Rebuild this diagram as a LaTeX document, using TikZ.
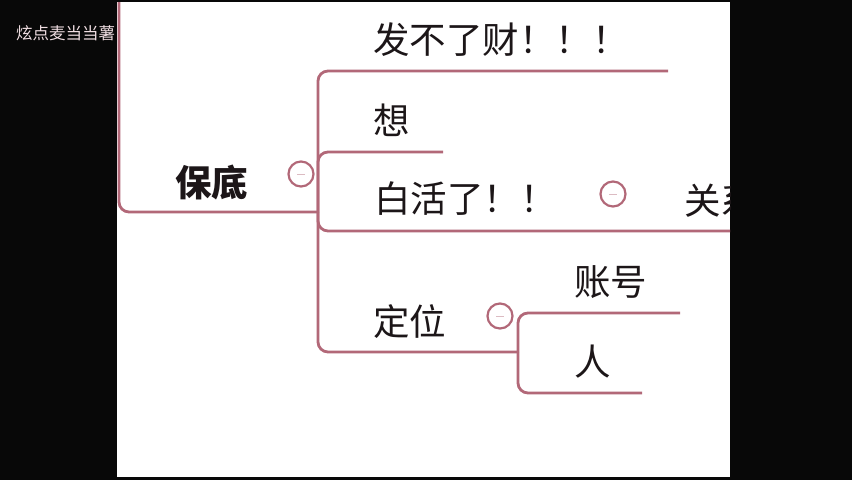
\documentclass[tikz,border=0pt]{standalone}
\usepackage{fontspec}
\newfontfamily\cjk{Noto Sans CJK SC}
\definecolor{linec}{RGB}{178,104,120}
\definecolor{txt}{RGB}{28,22,24}
\definecolor{wm}{RGB}{240,222,226}
\definecolor{bgk}{RGB}{8,8,8}
\begin{document}
\begin{tikzpicture}[x=1pt,y=-1pt,
  br/.style={draw=linec, line width=2.8pt, rounded corners=10pt},
  lbl/.style={font=\cjk\fontsize{36.5}{36.5}\selectfont, text=txt, inner sep=0pt, anchor=west},
  fold/.style={circle, draw=linec, line width=2.2pt, fill=white, minimum size=25pt, inner sep=0pt}]
\fill[bgk] (0,0) rectangle (852,480);
\useasboundingbox (0,0) rectangle (852,480);
\fill[white] (117,2) rectangle (730,477);
\node[font=\cjk\fontsize{16.5}{16.5}\selectfont, text=wm, inner sep=0pt, anchor=west] (wmk) at (16,33) {炫点麦当当薯};
\begin{scope}
\clip (117,2) rectangle (730,477);
% junctions
\coordinate (top) at (119,-10);
\coordinate (j1) at (318,212);
\coordinate (j2) at (518,352);
\coordinate (e1) at (668,71);
\coordinate (e2) at (443,152);
\coordinate (e3) at (740,231);
\coordinate (e5) at (680,313);
\coordinate (e6) at (642,393);
% texts
\node[lbl, font=\cjk\bfseries\fontsize{36.5}{36.5}\selectfont] (root) at (175,182) {保底};
\node[lbl] (fa) at (373,40) {发不了财！！！};
\node[lbl] (xiang) at (373,120) {想};
\node[lbl] (bai) at (374,199) {白活了！！};
\node[lbl] (guan) at (684,201) {关系};
\node[lbl] (ding) at (373,322) {定位};
\node[lbl] (zhang) at (574,282) {账号};
\node[lbl] (ren) at (574,362) {人};
% branches
\draw[br] (top) -- (119,212) -- (j1);
\draw[br] (j1) -- (318,71) -- (e1);
\draw[br] (j1) -- (318,152) -- (e2);
\draw[br] (j1) -- (318,231) -- (e3);
\draw[br] (j1) -- (318,352) -- (j2);
\draw[br] (j2) -- (518,313) -- (e5);
\draw[br] (j2) -- (518,393) -- (e6);
% fold markers
\foreach \n/\p in {f1/{(301,174)}, f2/{(613,194)}, f3/{(500,316)}}{
  \node[fold] (\n) at \p {};
  \draw[linec!45, line width=1pt] ([xshift=-4pt]\n.center) -- ([xshift=4pt]\n.center);
}
\end{scope}
\end{tikzpicture}
\end{document}
